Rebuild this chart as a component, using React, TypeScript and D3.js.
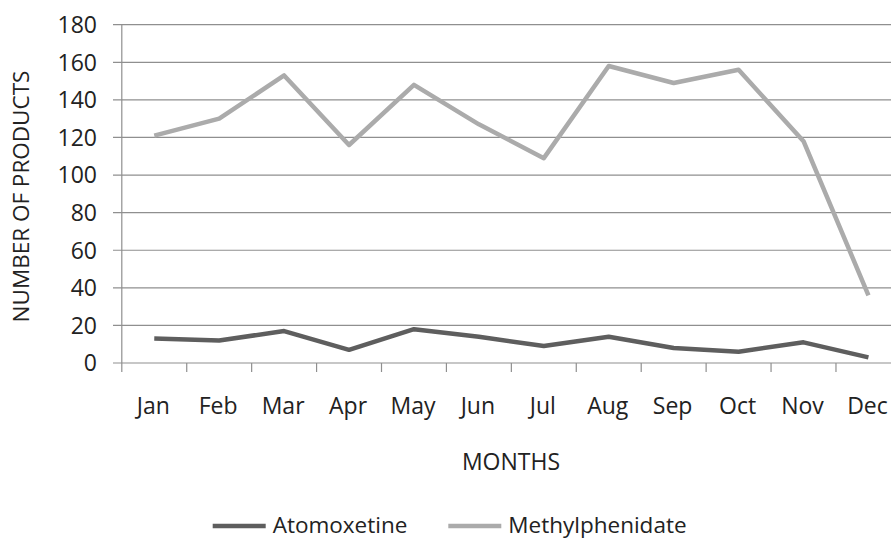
import React from "react";
import * as d3 from "d3";

const months = ["Jan", "Feb", "Mar", "Apr", "May", "Jun", "Jul", "Aug", "Sep", "Oct", "Nov", "Dec"];
const atomoxetine = [13, 12, 17, 7, 18, 14, 9, 14, 8, 6, 11, 3];
const methylphenidate = [121, 130, 153, 116, 148, 127, 109, 158, 149, 156, 118, 36];
const yTicks = [0, 20, 40, 60, 80, 100, 120, 140, 160, 180];
const seriesNames = ["Atomoxetine", "Methylphenidate"];
const seriesColors = ["#5e5e5e", "#ababab"];

const W = 891;
const H = 539;
const FONT = "'Open Sans', sans-serif";

export default function App() {
  const x = d3.scaleBand<string>().domain(months).range([121.8, 900.9]).padding(0);
  const y = d3.scaleLinear().domain([0, 180]).range([363, 24.7]);
  const line = d3
    .line<number>()
    .x((_, i) => (x(months[i]) as number) + x.bandwidth() / 2)
    .y((d) => y(d));
  const data = [atomoxetine, methylphenidate];
  const boundaries = months.map((m) => x(m) as number).concat([x.range()[1]]);

  return (
    <svg
      width={W}
      height={H}
      style={{ position: "absolute", left: 0, top: 0, background: "#ffffff" }}
      fontFamily={FONT}
    >
      <rect x={0} y={0} width={W} height={H} fill="#ffffff" />
      {yTicks.map((t) => (
        <line
          key={"g" + t}
          x1={113}
          x2={W}
          y1={y(t)}
          y2={y(t)}
          stroke="#8f8f8f"
          strokeWidth={1.2}
        />
      ))}
      <line x1={121.8} x2={121.8} y1={y(180)} y2={y(0)} stroke="#8f8f8f" strokeWidth={1.2} />
      {boundaries.map((b, i) => (
        <line key={"xt" + i} x1={b} x2={b} y1={y(0)} y2={y(0) + 9} stroke="#8f8f8f" strokeWidth={1.2} />
      ))}
      {yTicks.map((t) => (
        <text
          key={"yl" + t}
          x={97}
          y={y(t)}
          dy="0.36em"
          textAnchor="end"
          fontSize={23}
          fill="#222222"
        >
          {t}
        </text>
      ))}
      {months.map((m) => (
        <text
          key={"xl" + m}
          x={(x(m) as number) + x.bandwidth() / 2 - 1}
          y={414}
          textAnchor="middle"
          fontSize={23}
          fill="#222222"
        >
          {m}
        </text>
      ))}
      <text x={511} y={470} textAnchor="middle" fontSize={23} fill="#222222">
        MONTHS
      </text>
      <text
        transform={`translate(29,196.5) rotate(-90)`}
        textAnchor="middle"
        fontSize={22.5}
        fill="#222222"
      >
        NUMBER OF PRODUCTS
      </text>
      {data.map((d, i) => (
        <path
          key={"s" + i}
          d={line(d) as string}
          fill="none"
          stroke={seriesColors[i]}
          strokeWidth={4.5}
          strokeLinejoin="round"
        />
      ))}
      {seriesNames.map((n, i) => {
        const lx = i === 0 ? 212.7 : 448.3;
        return (
          <g key={"lg" + n}>
            <line x1={lx} x2={lx + 53} y1={526} y2={526} stroke={seriesColors[i]} strokeWidth={4.5} />
            <text x={lx + 60} y={532.5} fontSize={22.5} fill="#222222">
              {n}
            </text>
          </g>
        );
      })}
    </svg>
  );
}
